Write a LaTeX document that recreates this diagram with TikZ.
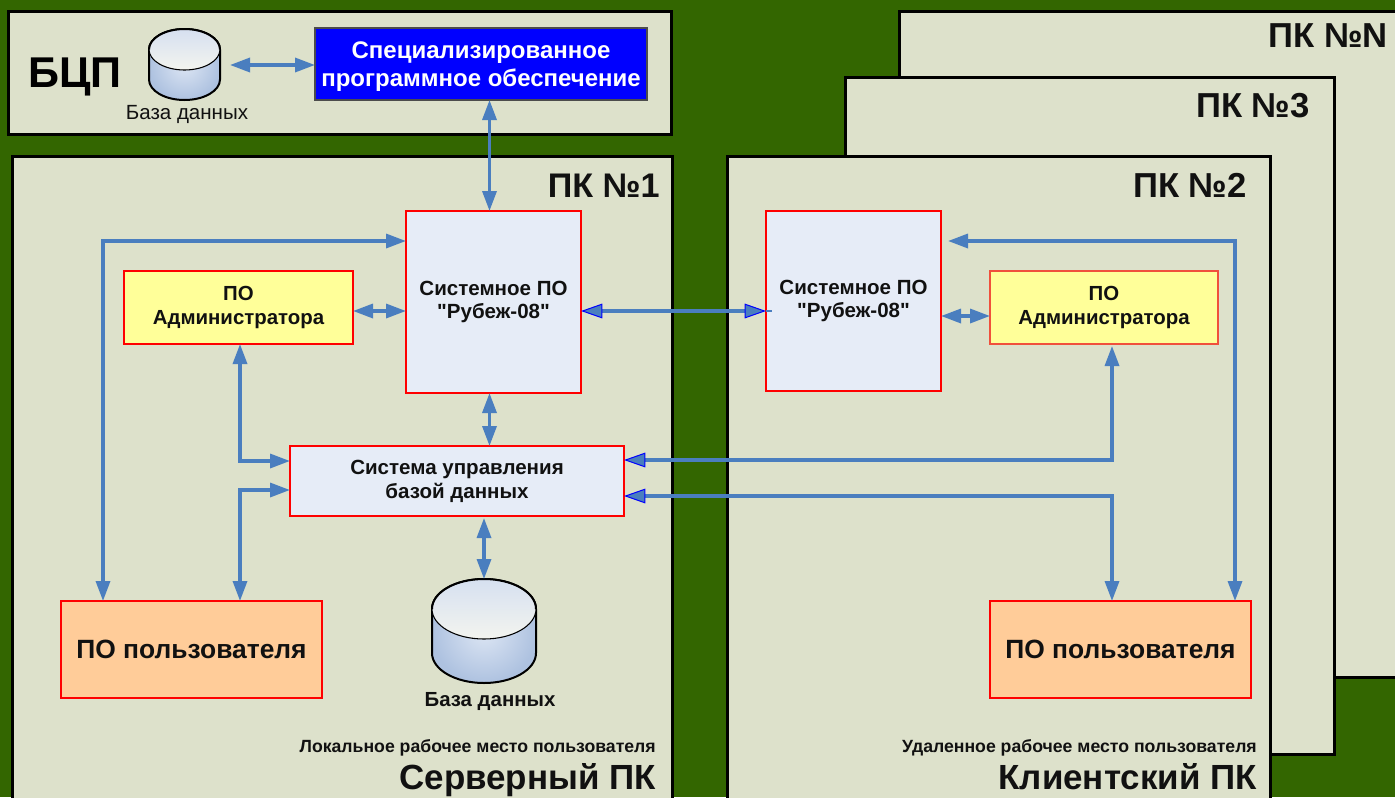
\documentclass[tikz,border=0pt]{standalone}
\usepackage{fontspec}
\setmainfont{Liberation Sans}
\newfontfamily\qfont{Liberation Sans}
\usetikzlibrary{arrows.meta,calc}
\definecolor{bggreen}{HTML}{336600}
\definecolor{panel}{HTML}{DDE1CB}
\definecolor{lineblue}{HTML}{4A7EBF}
\definecolor{sysfill}{HTML}{E6ECF7}
\definecolor{admfill}{HTML}{FFFF99}
\definecolor{userfill}{HTML}{FFCC99}
\definecolor{ink}{HTML}{111111}
\definecolor{softred}{HTML}{F0503C}
\definecolor{cyltopa}{HTML}{D6E0F0}
\definecolor{cyltopb}{HTML}{F3F4EF}
\definecolor{cylbodya}{HTML}{DDE6F4}
\definecolor{cylbodyb}{HTML}{AEC2E0}
\newcommand{\fsz}[1]{\fontsize{#1}{#1}\selectfont}
\newcommand{\rubezh}{{\qfont"Рубеж-08"}}
\tikzset{
  x=.75pt,y=-.75pt,
  sized/.style 2 args={minimum width=#1*.75pt,minimum height=#2*.75pt,inner sep=0pt,outer sep=0pt},
  fnt/.style 2 args={font=\fontsize{#1}{#2}\selectfont\bfseries},
  panelbox/.style={draw=black,fill=panel,line width=2.25pt},
  redbox/.style={draw=red,line width=1.1pt,text=ink,align=center},
  sysbox/.style={redbox,fill=sysfill,line width=.85pt},
  admbox/.style={redbox,fill=admfill},
  userbox/.style={redbox,fill=userfill},
  rlabel/.style={anchor=base east,text=ink,inner sep=0pt,font=\bfseries},
  link/.style={draw=lineblue,line width=2.5pt,{Triangle[length=15pt,width=10.5pt]}-{Triangle[length=15pt,width=10.5pt]}},
  linkb/.style={draw=lineblue,line width=2.5pt,
    {Triangle[length=16pt,width=11pt,fill=lineblue,color=blue,line width=.75pt]}-{Triangle[length=15pt,width=10.5pt]}},
  linkbb/.style={draw=lineblue,line width=2.5pt,
    {Triangle[length=16pt,width=11pt,fill=lineblue,color=blue,line width=.75pt]}-{Triangle[length=16pt,width=11pt,fill=lineblue,color=blue,line width=.75pt]}},
  cyl/.style={draw=black,line width=1.5pt},
  cyltop/.style={draw=black,line width=.8pt,top color=cyltopa,bottom color=cyltopb},
}
\newcommand{\cylinder}[5]{% name, cx, top y, half width, ellipse half height
  \node[sized={2*#4}{2*#4},anchor=north] (#1) at (#2,#3) {};
  \path[cyl,inner color=cylbodya,outer color=cylbodyb]
    ({#2-#4},{#3+#5}) -- ({#2-#4},{#3+2*#4-#5})
    arc[start angle=180,end angle=360,x radius=#4*.75pt,y radius=#5*.75pt]
    -- ({#2+#4},{#3+#5})
    arc[start angle=0,end angle=180,x radius=#4*.75pt,y radius=#5*.75pt] -- cycle;
  \path[cyltop] (#2,{#3+#5}) ellipse[x radius=#4*.75pt,y radius=#5*.75pt];
  \path[cyl] ({#2-#4},{#3+#5}) arc[start angle=180,end angle=0,x radius=#4*.75pt,y radius=#5*.75pt];
}
\begin{document}
\begin{tikzpicture}
\useasboundingbox (0,0) rectangle (1395,797);
\clip (0,0) rectangle (1395,797);
\fill[bggreen] (0,0) rectangle (1395,797);

% panels
\node[panelbox,sized={700}{666},anchor=north west] (pkn) at (899,11) {};
\node[panelbox,sized={489}{677},anchor=north west] (pk3) at (845,77) {};
\node[panelbox,sized={543}{660},anchor=north west] (pk2) at (727,156) {};
\node[panelbox,sized={660}{660},anchor=north west] (pk1) at (12.5,156) {};
\node[panelbox,sized={663}{123},anchor=north west] (bcp) at (8.5,11.5) {};

% panel labels
\node[rlabel] (lpkn) at (1388,47) {\fsz{26}ПК №N};
\node[rlabel] (lpk3) at (1310,117) {\fsz{26}ПК №3};
\node[rlabel] (lpk1) at (660,197) {\fsz{25.6}ПК №1};
\node[rlabel] (lpk2) at (1247,197) {\fsz{26}ПК №2};
\node[text=black,font=\bfseries,anchor=base west,inner sep=0pt] (lbcp) at (28,87) {\fsz{32.3}БЦП};
\node[rlabel] (lsrv) at (656,789) {\fsz{26.2}Серверный ПК};
\node[rlabel] (lcli) at (1257,789) {\fsz{26.2}Клиентский ПК};
\node[rlabel] (lloc) at (656,752) {\fsz{13.25}Локальное рабочее место пользователя};
\node[rlabel] (lrem) at (1257,752) {\fsz{13.25}Удаленное рабочее место пользователя};

% boxes
\node[draw=black!70,line width=.9pt,fill=blue,text=white,fnt={18}{21},align=center,sized={332}{72}] (spec) at (481,64)
  {\rule{0pt}{17pt}Специализированное\\программное обеспечение};
\node[sysbox,fnt={15.4}{17.25},sized={175}{182}] (sys1) at (493.5,302)
  {Системное ПО\\\rubezh};
\node[sysbox,fnt={15.4}{17.25},sized={175}{180}] (sys2) at (853.5,301)
  {Системное ПО\\\rubezh};
\node[admbox,fnt={15.3}{18},sized={229}{73}] (adm1) at (238.5,307.5)
  {ПО\\Администратора};
\node[admbox,fnt={15.3}{18},draw=softred,sized={228}{73}] (adm2) at (1104,307.5)
  {ПО\\Администратора};
\node[sysbox,fnt={15.4}{18},sized={334}{70},line width=1.2pt] (dbms) at (457,481)
  {Система управления\\базой данных};
\node[userbox,fnt={19.8}{24},sized={261}{97}] (user1) at (191.5,649.5) {ПО пользователя};
\node[userbox,fnt={19.8}{24},sized={261}{97}] (user2) at (1120.5,649.5) {ПО пользователя};

% databases
\cylinder{db1}{184.5}{29}{35.5}{20.5}
\cylinder{db2}{484}{579}{52}{30}
\node[text=ink,inner sep=0pt,anchor=base] (ldb1) at (187,119) {\fsz{15.4}База данных};
\node[text=ink,inner sep=0pt,anchor=base,font=\bfseries] (ldb2) at (490,706) {\fsz{15.3}База данных};

% connector end points on the nodes
\coordinate (sp-s) at (489.5,100);
\coordinate (s1-n) at (sp-s |- sys1.north);
\coordinate (s1-a) at (sys1.west |- 0,241);
\coordinate (u1-a) at (103,0 |- user1.north);
\coordinate (u1-top) at (103,241);
\coordinate (s1-e) at (sys1.east |- 0,311);
\coordinate (s2-w) at (sys2.west |- 0,311);
\coordinate (s2-stub) at (772,311);
\coordinate (s1-w) at (sys1.west |- 0,311);
\coordinate (a1-e) at (adm1.east |- 0,311);
\coordinate (s1-s) at (489.5,393);
\coordinate (d-n) at (489.5,446);
\coordinate (a1-s) at (240,344);
\coordinate (d-w1) at (dbms.west |- 0,461);
\coordinate (u1-n) at (240,601);
\coordinate (d-w2) at (dbms.west |- 0,490);
\coordinate (d-s) at (484,518);
\coordinate (d-e1) at (dbms.east |- 0,460);
\coordinate (d-e2) at (dbms.east |- 0,496);
\coordinate (a2-s) at (1112,346);
\coordinate (u2-n) at (1112,601);
\coordinate (s2-a) at (948,241);
\coordinate (u2-n2) at (1235,601);
\coordinate (s2-e) at (sys2.east |- 0,316);
\coordinate (a2-w) at (adm2.west |- 0,316);

% connectors
\draw[link,shorten <=7.5pt] (db1.east |- 0,65) -- (spec.west |- 0,65);
\draw[link] (sp-s) -- (s1-n);
\draw[link] (u1-a) -- (u1-top) -- (s1-a);
\draw[link] (a1-e) -- (s1-w);
\draw[draw=lineblue,line width=1.8pt] (s2-w) -- (s2-stub);
\draw[linkbb] (s1-e) -- (s2-w);
\draw[link] (s1-s) -- (d-n);
\draw[link] (a1-s) |- (d-w1);
\draw[link] (u1-n) |- (d-w2);
\draw[link] (d-s) -- (db2.north);
\draw[linkb] (d-e1) -| (a2-s);
\draw[linkb] (d-e2) -| (u2-n);
\draw[link] (s2-a) -| (u2-n2);
\draw[link] (s2-e) -- (a2-w);
\end{tikzpicture}
\end{document}
